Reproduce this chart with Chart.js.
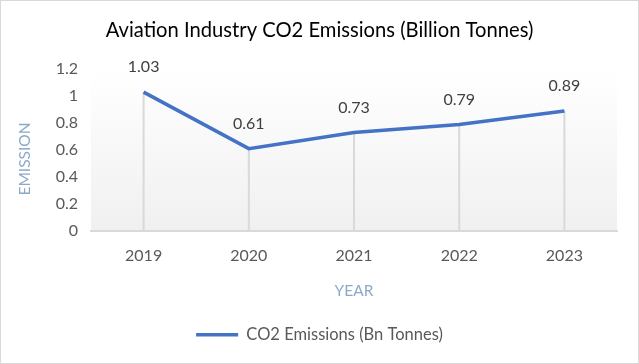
<!DOCTYPE html>
<html>
<head>
<meta charset="utf-8">
<script src="https://cdn.jsdelivr.net/npm/chart.js@4"></script>
<style>
    html, body { margin: 0; padding: 0; background: #fff; }
    .chart-box {
        width: 639px; height: 364px;
        box-sizing: border-box;
        border: 1px solid #d9d9d9;
        position: relative;
    }
</style>
</head>
<body>
<div class="chart-box">
    <canvas id="emissionChart"></canvas>
</div>
<script>
// Data
const years = ['2019', '2020', '2021', '2022', '2023'];
const emissions = [1.03, 0.61, 0.73, 0.79, 0.89];
const seriesName = 'CO2 Emissions (Bn Tonnes)';
const chartTitle = 'Aviation Industry CO2 Emissions (Billion Tonnes)';
const xTitle = 'YEAR';
const yTitle = 'EMISSION';

const FONT = 'Lato, "Open Sans", sans-serif';
const LINE_BLUE = '#4472c4';
const AXIS_GRAY = '#d9d9d9';
const TITLE_BLUE = '#8ea9c8';

// Plot area gradient, white to light gray
const plotBackground = {
    id: 'plotBackground',
    beforeDraw(chart) {
        const { ctx, chartArea: a } = chart;
        const g = ctx.createLinearGradient(0, a.top, 0, a.bottom);
        g.addColorStop(0, '#ffffff');
        g.addColorStop(1, '#f0f0f0');
        ctx.save();
        ctx.fillStyle = g;
        ctx.fillRect(a.left, a.top, a.right - a.left, a.bottom - a.top);
        ctx.restore();
    }
};

// Drop lines from each point down to the x axis
const dropLines = {
    id: 'dropLines',
    beforeDatasetsDraw(chart) {
        const { ctx, chartArea: a } = chart;
        const meta = chart.getDatasetMeta(0);
        ctx.save();
        ctx.strokeStyle = AXIS_GRAY;
        ctx.lineWidth = 2;
        meta.data.forEach(pt => {
            ctx.beginPath();
            ctx.moveTo(pt.x, pt.y);
            ctx.lineTo(pt.x, a.bottom);
            ctx.stroke();
        });
        ctx.restore();
    }
};

// Value labels above the points
const valueLabels = {
    id: 'valueLabels',
    afterDatasetsDraw(chart) {
        const { ctx } = chart;
        const meta = chart.getDatasetMeta(0);
        const values = chart.data.datasets[0].data;
        ctx.save();
        ctx.font = '16px ' + FONT;
        ctx.fillStyle = '#404040';
        ctx.textAlign = 'center';
        ctx.textBaseline = 'middle';
        meta.data.forEach((pt, i) => {
            ctx.fillText(values[i].toFixed(2), pt.x, pt.y - 25);
        });
        ctx.restore();
    }
};

// Rotated y axis title, placed like the Excel one (a bit below centre)
const yAxisTitle = {
    id: 'yAxisTitle',
    afterDraw(chart) {
        const { ctx, chartArea: a } = chart;
        ctx.save();
        ctx.translate(24, (a.top + a.bottom) / 2 + 9);
        ctx.rotate(-Math.PI / 2);
        ctx.font = '15.5px ' + FONT;
        ctx.fillStyle = TITLE_BLUE;
        ctx.textAlign = 'center';
        ctx.textBaseline = 'middle';
        ctx.fillText(yTitle, 0, 0);
        ctx.restore();
    }
};

new Chart(document.getElementById('emissionChart'), {
    type: 'line',
    data: {
        labels: years,
        datasets: [{
            label: seriesName,
            data: emissions,
            borderColor: LINE_BLUE,
            backgroundColor: LINE_BLUE,
            borderWidth: 3.5,
            pointRadius: 0,
            tension: 0,
            fill: false
        }]
    },
    options: {
        responsive: true,
        maintainAspectRatio: false,
        animation: false,
        layout: { padding: { left: 21, right: 21, top: 0, bottom: 10 } },
        plugins: {
            title: {
                display: true,
                text: chartTitle,
                color: '#000000',
                font: { family: FONT, size: 20.2, weight: 'normal' },
                padding: { top: 17, bottom: 27 }
            },
            legend: {
                position: 'bottom',
                labels: {
                    usePointStyle: true,
                    pointStyle: 'line',
                    pointStyleWidth: 42,
                    color: '#595959',
                    font: { family: FONT, size: 16.5 },
                    padding: 10
                }
            },
            tooltip: { enabled: false }
        },
        scales: {
            x: {
                offset: true,
                grid: { display: false },
                border: { display: true, color: AXIS_GRAY, width: 2 },
                ticks: {
                    color: '#595959',
                    font: { family: FONT, size: 16 },
                    padding: 8
                },
                title: {
                    display: true,
                    text: xTitle,
                    color: TITLE_BLUE,
                    font: { family: FONT, size: 15.5 },
                    padding: { top: 8, bottom: 16 }
                }
            },
            y: {
                min: 0,
                max: 1.2,
                grid: { display: false },
                border: { display: false },
                afterFit(scale) { scale.width = 69; },
                ticks: {
                    stepSize: 0.2,
                    color: '#595959',
                    font: { family: FONT, size: 16 },
                    padding: 5,
                    callback: v => String(Math.round(v * 10) / 10)
                }
            }
        }
    },
    plugins: [plotBackground, dropLines, valueLabels, yAxisTitle]
});
</script>
</body>
</html>
